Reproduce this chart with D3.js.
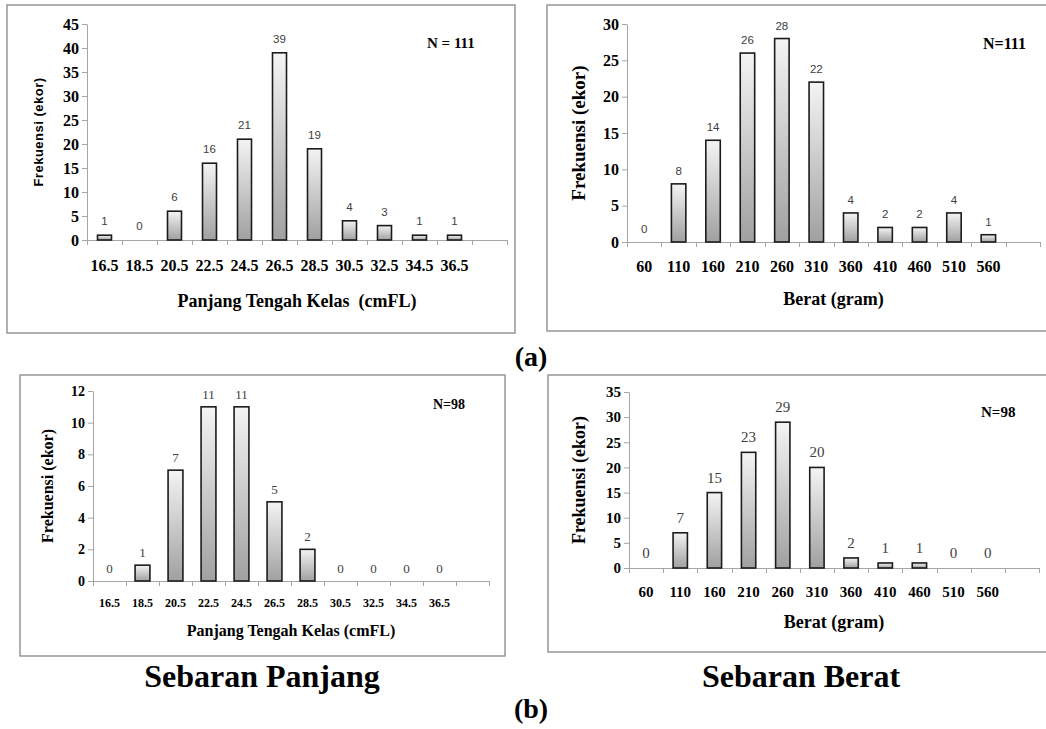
<!DOCTYPE html>
<html lang="id">
<head>
<meta charset="UTF-8">
<title>Sebaran Panjang dan Berat</title>
<script src="https://cdnjs.cloudflare.com/ajax/libs/d3/7.8.5/d3.min.js"></script>
<style>
  body { margin: 0; background: #fff; }
  svg { display: block; }
  text { white-space: pre; }
  .serif { font-family: "Liberation Serif", "Times New Roman", serif; }
  .sans { font-family: "Liberation Sans", Arial, sans-serif; }
</style>
</head>
<body>
<svg id="fig" width="1046" height="729"></svg>
<script>
    // class midpoints; the last band stays empty like in the Excel originals
    const lengthClasses = ["16.5", "18.5", "20.5", "22.5", "24.5", "26.5", "28.5", "30.5", "32.5", "34.5", "36.5", ""];
    const weightClasses = ["60", "110", "160", "210", "260", "310", "360", "410", "460", "510", "560", ""];

    // frequencies (ekor)
    const lengthFreqA = [1, 0, 6, 16, 21, 39, 19, 4, 3, 1, 1];
    const weightFreqA = [0, 8, 14, 26, 28, 22, 4, 2, 2, 4, 1];
    const lengthFreqB = [0, 1, 7, 11, 11, 5, 2, 0, 0, 0, 0];
    const weightFreqB = [0, 7, 15, 23, 29, 20, 2, 1, 1, 0, 0];

    // y tick labels
    const yTicksLenA = [0, 5, 10, 15, 20, 25, 30, 35, 40, 45];
    const yTicksWtA = [0, 5, 10, 15, 20, 25, 30];
    const yTicksLenB = [0, 2, 4, 6, 8, 10, 12];
    const yTicksWtB = [0, 5, 10, 15, 20, 25, 30, 35];

    const svg = d3.select("#fig");

    const grad = svg.append("defs").append("linearGradient")
        .attr("id", "barFill")
        .attr("x1", 0).attr("y1", 0).attr("x2", 0).attr("y2", 1);
    grad.append("stop").attr("offset", "0%").attr("stop-color", "#f4f4f4");
    grad.append("stop").attr("offset", "100%").attr("stop-color", "#a0a0a0");

    const panels = [
        {
            box: [7, 5, 515, 333], left: 87, right: 507, top: 24, bottom: 240,
            cats: lengthClasses, values: lengthFreqA, yMax: 45, yTicks: yTicksLenA,
            barRatio: 0.4, xTickSize: 16, xPad: 19.6, yTickSize: 16,
            xTitle: "Panjang Tengah Kelas  (cmFL)", xTitleSize: 18, xTitleY: 307,
            yTitleFont: "sans", yTitleSize: 13, yTitleX: 38, yTitleSpacing: 0.5,
            nText: "N = 111", nX: 427, nY: 48, nSize: 15,
            valFont: "sans", valSize: 11.5, valGap: 10
        },
        {
            box: [547, 5, 1052, 331], left: 627, right: 1040, top: 24, bottom: 242,
            cats: weightClasses, values: weightFreqA, yMax: 30, yTicks: yTicksWtA,
            barRatio: 0.42, xTickSize: 16, xPad: 18.6, yTickSize: 16,
            xTitle: "Berat (gram)", xTitleSize: 18, xTitleY: 305,
            yTitleFont: "serif", yTitleSize: 19, yTitleX: 578, yTitleSpacing: 0,
            nText: "N=111", nX: 983, nY: 49, nSize: 16,
            valFont: "sans", valSize: 11.5, valGap: 9
        },
        {
            box: [20, 375, 505, 656], left: 93, right: 489, top: 391, bottom: 581,
            cats: lengthClasses, values: lengthFreqB, yMax: 12, yTicks: yTicksLenB,
            barRatio: 0.45, xTickSize: 12, xPad: 17.5, yTickSize: 14,
            xTitle: "Panjang Tengah Kelas (cmFL)", xTitleSize: 16, xTitleY: 636,
            yTitleFont: "serif", yTitleSize: 16, yTitleX: 47, yTitleSpacing: 0,
            nText: "N=98", nX: 433, nY: 409, nSize: 14,
            valFont: "serif", valSize: 13, valGap: 8
        },
        {
            box: [548, 375, 1052, 652], left: 629, right: 1039, top: 392, bottom: 568,
            cats: weightClasses, values: weightFreqB, yMax: 35, yTicks: yTicksWtB,
            barRatio: 0.42, xTickSize: 15, xPad: 18.3, yTickSize: 15,
            xTitle: "Berat (gram)", xTitleSize: 18, xTitleY: 628,
            yTitleFont: "serif", yTitleSize: 18, yTitleX: 579, yTitleSpacing: 0,
            nText: "N=98", nX: 981, nY: 417, nSize: 15,
            valFont: "serif", valSize: 15, valGap: 10
        }
    ];

    panels.forEach(drawPanel);

    function drawPanel(p) {
        const g = svg.append("g");

        g.append("rect")
            .attr("x", p.box[0]).attr("y", p.box[1])
            .attr("width", p.box[2] - p.box[0]).attr("height", p.box[3] - p.box[1])
            .attr("fill", "none").attr("stroke", "#8f8f8f").attr("stroke-width", 1.4);

        const x = d3.scaleBand().domain(p.cats).range([p.left, p.right]);
        const y = d3.scaleLinear().domain([0, p.yMax]).range([p.bottom, p.top]);

        // y axis
        const ya = g.append("g")
            .attr("transform", `translate(${p.left},0)`)
            .call(d3.axisLeft(y).tickValues(p.yTicks).tickSize(5).tickSizeOuter(0).tickPadding(3));
        ya.attr("font-family", null);
        ya.select(".domain").attr("stroke", "#a6a6a6");
        ya.selectAll(".tick line").attr("stroke", "#a6a6a6");
        ya.selectAll(".tick text")
            .attr("class", "serif")
            .style("font-weight", "bold")
            .style("font-size", p.yTickSize + "px")
            .attr("fill", "#000");

        // x axis: labels centred in the bands, tick marks on the band edges
        const xa = g.append("g")
            .attr("transform", `translate(0,${p.bottom})`)
            .call(d3.axisBottom(x).tickSize(0).tickPadding(p.xPad));
        xa.attr("font-family", null);
        xa.select(".domain").remove();
        xa.selectAll(".tick text")
            .attr("class", "serif")
            .style("font-weight", "bold")
            .style("font-size", p.xTickSize + "px")
            .attr("fill", "#000");

        g.append("line")
            .attr("x1", p.left).attr("x2", p.right)
            .attr("y1", p.bottom + 0.5).attr("y2", p.bottom + 0.5)
            .attr("stroke", "#a6a6a6");

        const edges = p.cats.map(c => x(c)).concat([x.range()[1]]);
        g.selectAll(".edge")
            .data(edges)
            .join("line")
            .attr("class", "edge")
            .attr("x1", d => Math.round(d) + 0.5).attr("x2", d => Math.round(d) + 0.5)
            .attr("y1", p.bottom).attr("y2", p.bottom + 5)
            .attr("stroke", "#a6a6a6");

        const data = p.values.map((v, i) => ({ c: p.cats[i], v: v }));
        const bw = x.bandwidth() * p.barRatio;

        g.selectAll(".bar")
            .data(data.filter(d => d.v > 0))
            .join("rect")
            .attr("class", "bar")
            .attr("x", d => x(d.c) + (x.bandwidth() - bw) / 2)
            .attr("y", d => y(d.v))
            .attr("width", bw)
            .attr("height", d => y(0) - y(d.v))
            .attr("fill", "url(#barFill)")
            .attr("stroke", "#1c1c1c")
            .attr("stroke-width", 1.6);

        g.selectAll(".val")
            .data(data)
            .join("text")
            .attr("class", "val " + p.valFont)
            .attr("x", d => x(d.c) + x.bandwidth() / 2)
            .attr("y", d => y(d.v) - p.valGap)
            .attr("text-anchor", "middle")
            .style("font-size", p.valSize + "px")
            .attr("fill", "#404040")
            .text(d => d.v);

        // axis titles
        g.append("text")
            .attr("class", "serif")
            .attr("x", (p.left + p.right) / 2).attr("y", p.xTitleY)
            .attr("text-anchor", "middle")
            .style("font-weight", "bold")
            .style("font-size", p.xTitleSize + "px")
            .text(p.xTitle);

        g.append("text")
            .attr("class", p.yTitleFont)
            .attr("transform", `translate(${p.yTitleX},${(p.top + p.bottom) / 2}) rotate(-90)`)
            .attr("dy", "0.35em")
            .attr("text-anchor", "middle")
            .style("font-weight", "bold")
            .style("font-size", p.yTitleSize + "px")
            .style("letter-spacing", p.yTitleSpacing + "px")
            .text("Frekuensi (ekor)");

        g.append("text")
            .attr("class", "serif")
            .attr("x", p.nX).attr("y", p.nY)
            .style("font-weight", "bold")
            .style("font-size", p.nSize + "px")
            .text(p.nText);
    }

    // figure captions
    const captions = [
        { t: "(a)", x: 531, y: 366, s: 28 },
        { t: "Sebaran Panjang", x: 262, y: 687, s: 32 },
        { t: "Sebaran Berat", x: 801, y: 687, s: 32 },
        { t: "(b)", x: 531, y: 718, s: 28 }
    ];
    svg.selectAll(".cap")
        .data(captions)
        .join("text")
        .attr("class", "cap serif")
        .attr("x", d => d.x).attr("y", d => d.y)
        .attr("text-anchor", "middle")
        .style("font-weight", "bold")
        .style("font-size", d => d.s + "px")
        .text(d => d.t);
</script>
</body>
</html>
